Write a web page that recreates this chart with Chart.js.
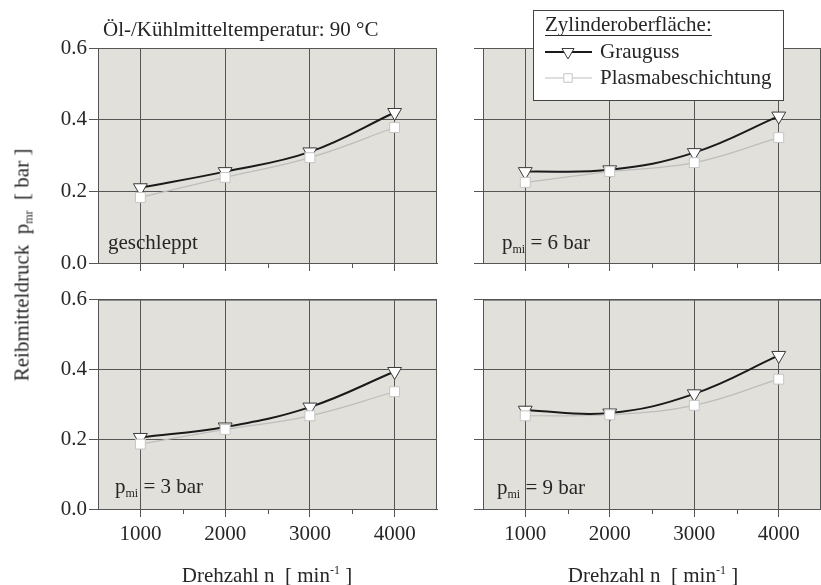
<!DOCTYPE html>
<html>
<head>
<meta charset="utf-8">
<script src="https://cdn.jsdelivr.net/npm/chart.js@4.4.0/dist/chart.umd.min.js"></script>
<style>
    html, body { margin: 0; padding: 0; background: #fff; overflow: hidden; }
    #wrap { position: relative; width: 821px; height: 585px; overflow: hidden; font-family: 'Liberation Serif', 'Times New Roman', serif; color: #262626; }
    canvas { position: absolute; }
    .lbl { position: absolute; font-size: 21px; line-height: 21px; white-space: nowrap; z-index: 5; }
    .lbl sub { font-size: 12px; vertical-align: -4px; line-height: 0; }
    .lbl sup { font-size: 12px; vertical-align: 8px; line-height: 0; }
    #ytitle { left: 22px; top: 265px; transform: translate(-50%, -50%) rotate(-90deg); }
    .xtitle { top: 565px; transform: translateX(-50%); }
</style>
</head>
<body>
<div id="wrap">
    <canvas id="cTL" width="450" height="285" style="left:0;top:0"></canvas>
    <canvas id="cTR" width="380" height="285" style="left:450px;top:0"></canvas>
    <canvas id="cBL" width="450" height="300" style="left:0;top:285px"></canvas>
    <canvas id="cBR" width="380" height="300" style="left:450px;top:285px"></canvas>

    <div class="lbl" style="left:103px;top:19px">Öl-/Kühlmitteltemperatur: 90 °C</div>
    <div class="lbl" style="left:108px;top:232px">geschleppt</div>
    <div class="lbl" style="left:502px;top:232px">p<sub>mi</sub> = 6 bar</div>
    <div class="lbl" style="left:115px;top:476px">p<sub>mi</sub> = 3 bar</div>
    <div class="lbl" style="left:497px;top:477px">p<sub>mi</sub> = 9 bar</div>
    <div class="lbl" id="ytitle">Reibmitteldruck&nbsp; p<sub>mr</sub>&nbsp; [ bar ]</div>
    <div class="lbl xtitle" style="left:267px">Drehzahl n&nbsp; [ min<sup>-1</sup> ]</div>
    <div class="lbl xtitle" style="left:653px">Drehzahl n&nbsp; [ min<sup>-1</sup> ]</div>
</div>

<script>
// Data
const speeds = [1000, 2000, 3000, 4000];
const xTicks = [1000, 2000, 3000, 4000];
const xMinorTicks = [1500, 2500, 3500];
const yTicks = [0.0, 0.2, 0.4, 0.6];

const seriesNames = ['Grauguss', 'Plasmabeschichtung'];

const graugussSchlepp = [0.21, 0.255, 0.31, 0.42];
const plasmaSchlepp = [0.183, 0.239, 0.294, 0.378];

const grauguss6bar = [0.255, 0.26, 0.308, 0.41];
const plasma6bar = [0.225, 0.255, 0.28, 0.35];

const grauguss3bar = [0.205, 0.235, 0.292, 0.394];
const plasma3bar = [0.186, 0.228, 0.267, 0.336];

const grauguss9bar = [0.283, 0.275, 0.33, 0.44];
const plasma9bar = [0.267, 0.27, 0.297, 0.372];

const FONT = "'Liberation Serif', 'Times New Roman', serif";
const textColor = '#262626';
const gridColor = '#555555';
const plotBg = '#e2e0da';

const graugussStyle = {
    borderColor: '#1a1a1a',
    borderWidth: 2,
    pointStyle: 'triangle',
    pointRotation: 180,
    pointRadius: 8,
    pointBackgroundColor: '#ffffff',
    pointBorderColor: '#3a3a3a',
    pointBorderWidth: 1
};
const plasmaStyle = {
    borderColor: '#bdbdbd',
    borderWidth: 1.2,
    pointStyle: 'rect',
    pointRadius: 7,
    pointBackgroundColor: '#ffffff',
    pointBorderColor: '#c4c4c4',
    pointBorderWidth: 1
};

function toPoints(values) {
    return speeds.map((s, i) => ({ x: s, y: values[i] }));
}

// Plot background, frame and short minor ticks
const panelDeco = {
    id: 'panelDeco',
    beforeDraw(chart) {
        const { ctx, chartArea: a } = chart;
        ctx.save();
        ctx.fillStyle = plotBg;
        ctx.fillRect(a.left, a.top, a.right - a.left, a.bottom - a.top);
        ctx.restore();
    },
    beforeDatasetsDraw(chart) {
        const { ctx, chartArea: a } = chart;
        const xs = chart.scales.x;
        ctx.save();
        ctx.strokeStyle = gridColor;
        ctx.lineWidth = 1;
        ctx.strokeRect(a.left + 0.5, a.top + 0.5, a.right - a.left - 1, a.bottom - a.top);
        ctx.beginPath();
        xMinorTicks.forEach(v => {
            const px = Math.round(xs.getPixelForValue(v)) + 0.5;
            ctx.moveTo(px, a.bottom);
            ctx.lineTo(px, a.bottom + 5);
        });
        ctx.stroke();
        ctx.restore();
    }
};

// Legend box drawn on the top right panel
const legendBox = {
    id: 'legendBox',
    afterDraw(chart) {
        const ctx = chart.ctx;
        const bx = 83, by = 10, bw = 250, bh = 90;
        ctx.save();
        ctx.fillStyle = '#ffffff';
        ctx.fillRect(bx, by, bw, bh);
        ctx.strokeStyle = '#444';
        ctx.lineWidth = 1;
        ctx.strokeRect(bx + 0.5, by + 0.5, bw, bh);

        ctx.font = '21px ' + FONT;
        ctx.fillStyle = textColor;
        ctx.textBaseline = 'middle';
        ctx.textAlign = 'left';
        const title = 'Zylinderoberfläche:';
        ctx.fillText(title, 95, 25);
        const tw = ctx.measureText(title).width;
        ctx.beginPath();
        ctx.moveTo(95, 35.5);
        ctx.lineTo(95 + tw, 35.5);
        ctx.strokeStyle = textColor;
        ctx.stroke();

        const rows = [
            { name: seriesNames[0], st: graugussStyle, y: 52 },
            { name: seriesNames[1], st: plasmaStyle, y: 78 }
        ];
        rows.forEach(r => {
            ctx.beginPath();
            ctx.strokeStyle = r.st.borderColor;
            ctx.lineWidth = r.st.borderWidth;
            ctx.moveTo(95, r.y);
            ctx.lineTo(142, r.y);
            ctx.stroke();
            ctx.fillStyle = r.st.pointBackgroundColor;
            ctx.strokeStyle = r.st.pointBorderColor;
            ctx.lineWidth = r.st.pointBorderWidth;
            Chart.helpers.drawPoint(ctx, {
                pointStyle: r.st.pointStyle,
                rotation: r.st.pointRotation || 0,
                radius: r.st.pointRadius - 1,
                borderWidth: r.st.pointBorderWidth
            }, 118, r.y);
            ctx.fillStyle = textColor;
            ctx.fillText(r.name, 150, r.y);
        });
        ctx.restore();
    }
};

function makePanel(id, grau, plasma, cfg) {
    const plugins = [panelDeco];
    if (cfg.legend) plugins.push(legendBox);
    return new Chart(document.getElementById(id).getContext('2d'), {
        type: 'line',
        data: {
            datasets: [
                Object.assign({ label: seriesNames[0], data: toPoints(grau), order: 2, tension: 0.4 }, graugussStyle),
                Object.assign({ label: seriesNames[1], data: toPoints(plasma), order: 1, tension: 0.4 }, plasmaStyle)
            ]
        },
        options: {
            responsive: false,
            animation: false,
            events: [],
            layout: { padding: { left: 0, top: cfg.top, right: cfg.right, bottom: 0 } },
            plugins: { legend: { display: false }, tooltip: { enabled: false } },
            scales: {
                x: {
                    type: 'linear',
                    min: 500,
                    max: 4500,
                    afterBuildTicks: s => { s.ticks = xTicks.map(v => ({ value: v })); },
                    afterFit: s => { s.height = cfg.xHeight; },
                    grid: { color: gridColor, lineWidth: 1, tickLength: 8, drawTicks: true },
                    border: { display: true, color: gridColor, width: 1 },
                    ticks: {
                        autoSkip: false,
                        maxRotation: 0,
                        padding: 5,
                        color: textColor,
                        font: { family: FONT, size: 21 },
                        callback: v => cfg.xLabels ? String(v) : ''
                    }
                },
                y: {
                    min: 0,
                    max: 0.6,
                    afterBuildTicks: s => { s.ticks = yTicks.map(v => ({ value: v })); },
                    afterFit: s => { s.width = cfg.yWidth; },
                    grid: { color: gridColor, lineWidth: 1, tickLength: 9, drawTicks: true },
                    border: { display: true, color: gridColor, width: 1 },
                    ticks: {
                        padding: 2,
                        color: textColor,
                        font: { family: FONT, size: 21 },
                        callback: v => cfg.yLabels ? v.toFixed(1) : ''
                    }
                }
            }
        },
        plugins: plugins
    });
}

makePanel('cTL', graugussSchlepp, plasmaSchlepp, { top: 48, right: 13, xHeight: 22, yWidth: 98, xLabels: false, yLabels: true });
makePanel('cTR', grauguss6bar, plasma6bar, { top: 48, right: 6, xHeight: 22, yWidth: 33, xLabels: false, yLabels: false, legend: true });
makePanel('cBL', grauguss3bar, plasma3bar, { top: 10, right: 13, xHeight: 76, yWidth: 98, xLabels: true, yLabels: true });
makePanel('cBR', grauguss9bar, plasma9bar, { top: 10, right: 6, xHeight: 76, yWidth: 33, xLabels: true, yLabels: false });
</script>
</body>
</html>
